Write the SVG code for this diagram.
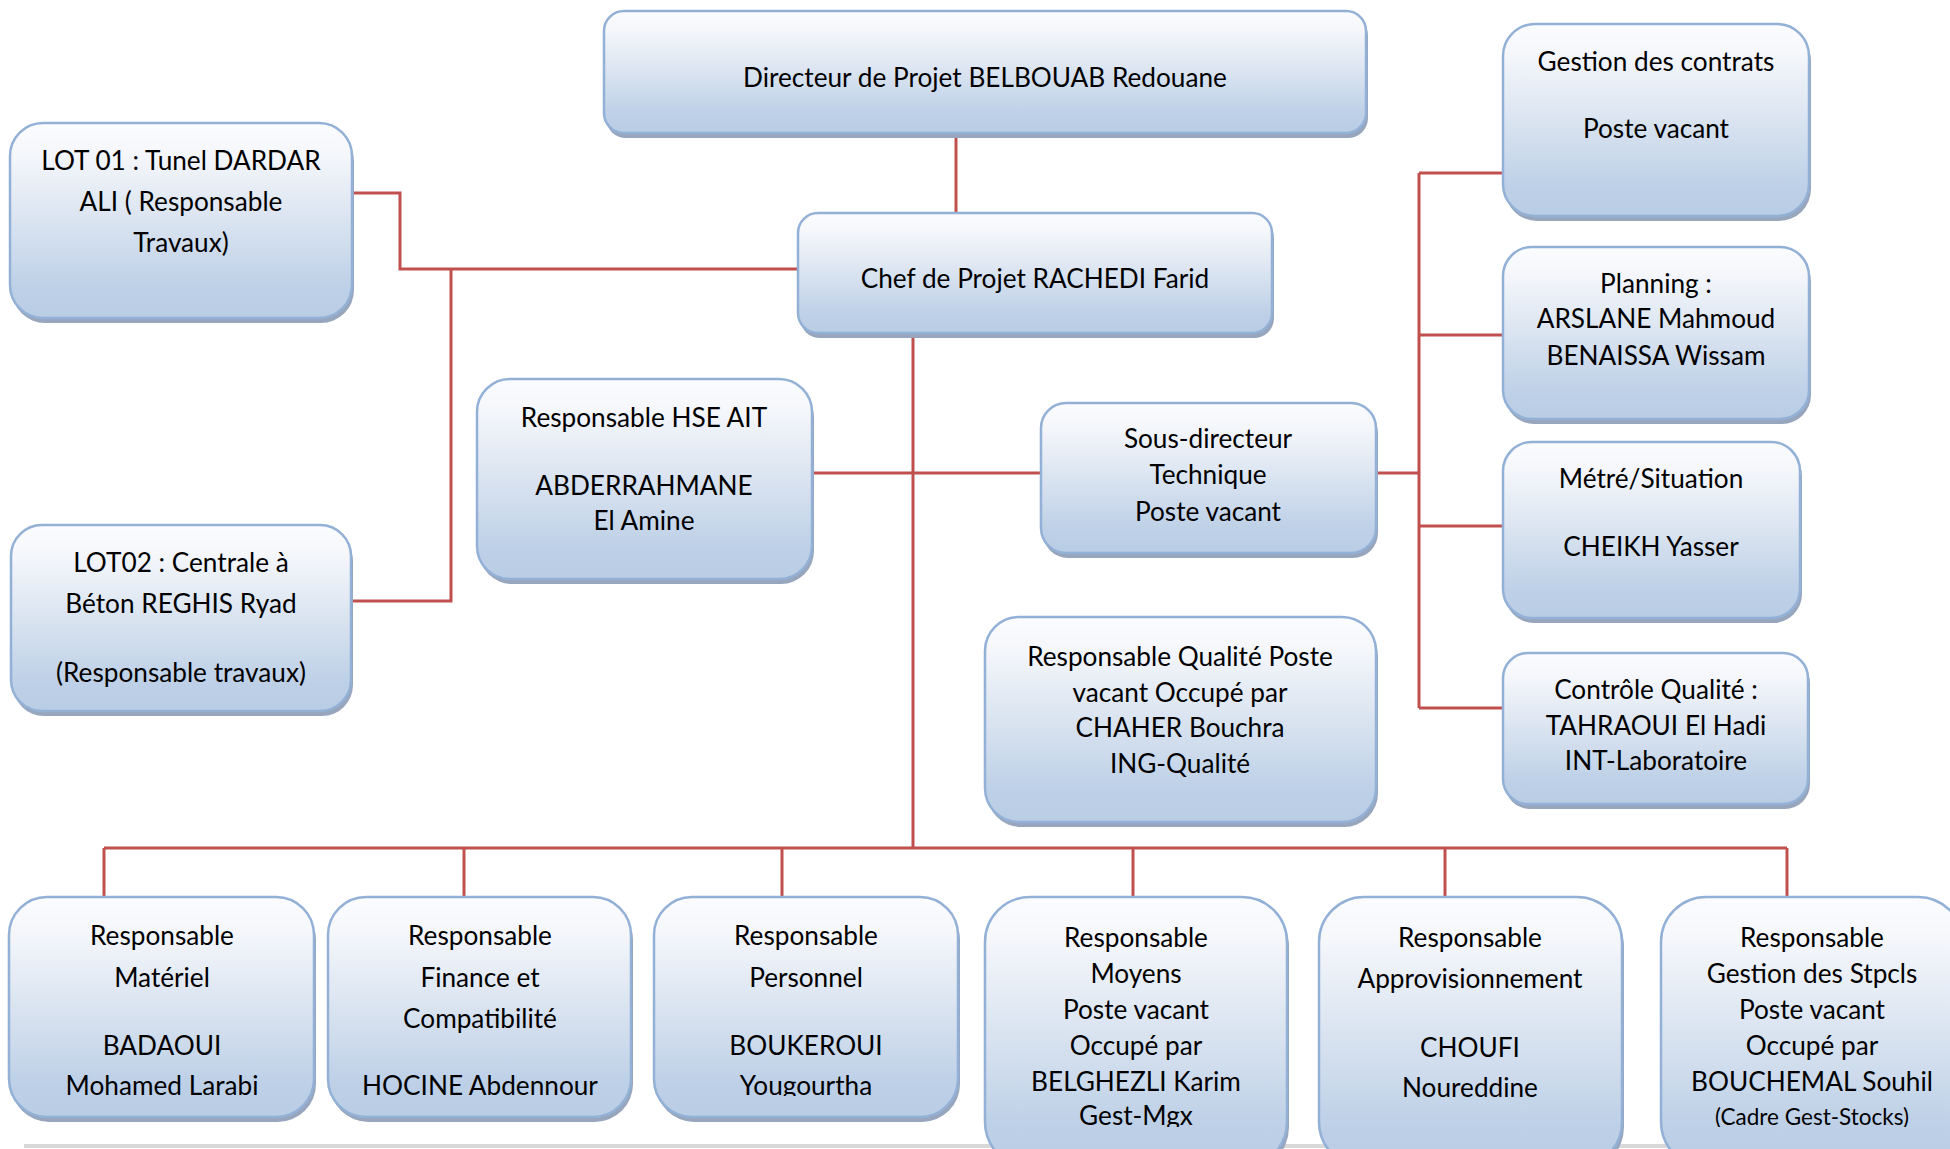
<svg xmlns="http://www.w3.org/2000/svg" width="1950" height="1149" viewBox="0 0 1950 1149">
  <style>
    .box { fill: url(#boxFill); stroke: #93b1d6; stroke-width: 2.5; }
    .shadow { fill: #97a6bd; }
    .t { font-family: Lato, "Open Sans", "Liberation Sans", sans-serif; font-size: 26.2px; fill: #000; text-anchor: middle; }
    .small { font-size: 22.5px; }
    .conn { fill: none; stroke: #c0504d; stroke-width: 3; }
  </style>
  <defs>
    <linearGradient id="boxFill" x1="0" y1="0" x2="0" y2="1">
      <stop offset="0" stop-color="#fbfcfe"/>
      <stop offset="0.15" stop-color="#f5f7fb"/>
      <stop offset="0.55" stop-color="#d6e1ef"/>
      <stop offset="0.85" stop-color="#bdd0e7"/>
      <stop offset="1" stop-color="#b9cde5"/>
    </linearGradient>
    <clipPath id="clipLow"><rect x="0" y="0" width="1950" height="1096"/></clipPath>
    <clipPath id="clipLow2"><rect x="0" y="0" width="1950" height="1127"/></clipPath>
  </defs>

  <rect width="1950" height="1149" fill="#fff"/>

  <!-- page edge -->
  <rect x="24" y="1144" width="1926" height="4" fill="#d9d9d9"/>

  <!-- connectors -->
  <g id="connectors">
    <path class="conn" d="M956,136 V213"/>
    <path class="conn" d="M352,193 H400 V269 H798"/>
    <path class="conn" d="M352,601 H451 V269"/>
    <path class="conn" d="M812,473 H1041"/>
    <path class="conn" d="M1376,473 H1419"/>
    <path class="conn" d="M1419,173 V708"/>
    <path class="conn" d="M1419,173 H1503"/>
    <path class="conn" d="M1419,335 H1503"/>
    <path class="conn" d="M1419,526 H1503"/>
    <path class="conn" d="M1419,708 H1503"/>
    <path class="conn" d="M913,335 V848"/>
    <path class="conn" d="M104,848 H1787"/>
    <path class="conn" d="M104,848 V897"/>
    <path class="conn" d="M464,848 V897"/>
    <path class="conn" d="M782,848 V897"/>
    <path class="conn" d="M1133,848 V897"/>
    <path class="conn" d="M1445,848 V897"/>
    <path class="conn" d="M1787,848 V897"/>
  </g>

  <!-- Directeur de projet -->
  <g id="directeur">
    <rect class="shadow" x="606" y="16" width="762" height="122" rx="20"/>
    <rect class="box" x="604" y="11" width="762" height="122" rx="20"/>
    <text class="t" x="985" y="87">Directeur de Projet BELBOUAB Redouane</text>
  </g>

  <!-- Chef de projet -->
  <g id="chef">
    <rect class="shadow" x="800" y="218" width="474" height="120" rx="20"/>
    <rect class="box" x="798" y="213" width="474" height="120" rx="20"/>
    <text class="t" x="1035" y="288">Chef de Projet RACHEDI Farid</text>
  </g>

  <!-- LOT 01 -->
  <g id="lot01">
    <rect class="shadow" x="12" y="128" width="342" height="195" rx="33"/>
    <rect class="box" x="10" y="123" width="342" height="195" rx="33"/>
    <text class="t" x="181" y="170">LOT 01 : Tunel DARDAR</text>
    <text class="t" x="181" y="211">ALI ( Responsable</text>
    <text class="t" x="181" y="252">Travaux)</text>
  </g>

  <!-- LOT 02 -->
  <g id="lot02">
    <rect class="shadow" x="13" y="530" width="340" height="186" rx="31"/>
    <rect class="box" x="11" y="525" width="340" height="186" rx="31"/>
    <text class="t" x="181" y="572">LOT02 : Centrale à</text>
    <text class="t" x="181" y="613">Béton REGHIS Ryad</text>
    <text class="t" x="181" y="682">(Responsable travaux)</text>
  </g>

  <!-- Responsable HSE -->
  <g id="hse">
    <rect class="shadow" x="479" y="384" width="335" height="200" rx="33"/>
    <rect class="box" x="477" y="379" width="335" height="200" rx="33"/>
    <text class="t" x="644" y="427">Responsable HSE AIT</text>
    <text class="t" x="644" y="495">ABDERRAHMANE</text>
    <text class="t" x="644" y="530">El Amine</text>
  </g>

  <!-- Sous-directeur technique -->
  <g id="sous-directeur">
    <rect class="shadow" x="1043" y="408" width="335" height="150" rx="25"/>
    <rect class="box" x="1041" y="403" width="335" height="150" rx="25"/>
    <text class="t" x="1208" y="448">Sous-directeur</text>
    <text class="t" x="1208" y="484">Technique</text>
    <text class="t" x="1208" y="521">Poste vacant</text>
  </g>

  <!-- Responsable qualité -->
  <g id="resp-qualite">
    <rect class="shadow" x="987" y="622" width="391" height="205" rx="34"/>
    <rect class="box" x="985" y="617" width="391" height="205" rx="34"/>
    <text class="t" x="1180" y="666">Responsable Qualité Poste</text>
    <text class="t" x="1180" y="702">vacant Occupé par</text>
    <text class="t" x="1180" y="737">CHAHER Bouchra</text>
    <text class="t" x="1180" y="773">ING-Qualité</text>
  </g>

  <!-- Gestion des contrats -->
  <g id="gestion-contrats">
    <rect class="shadow" x="1505" y="29" width="306" height="192" rx="32"/>
    <rect class="box" x="1503" y="24" width="306" height="192" rx="32"/>
    <text class="t" x="1656" y="71">Gestion des contrats</text>
    <text class="t" x="1656" y="138">Poste vacant</text>
  </g>

  <!-- Planning -->
  <g id="planning">
    <rect class="shadow" x="1505" y="252" width="306" height="172" rx="29"/>
    <rect class="box" x="1503" y="247" width="306" height="172" rx="29"/>
    <text class="t" x="1656" y="293">Planning :</text>
    <text class="t" x="1656" y="328">ARSLANE Mahmoud</text>
    <text class="t" x="1656" y="365">BENAISSA Wissam</text>
  </g>

  <!-- Métré / Situation -->
  <g id="metre">
    <rect class="shadow" x="1505" y="447" width="297" height="176" rx="29"/>
    <rect class="box" x="1503" y="442" width="297" height="176" rx="29"/>
    <text class="t" x="1651" y="488">Métré/Situation</text>
    <text class="t" x="1651" y="556">CHEIKH Yasser</text>
  </g>

  <!-- Contrôle qualité -->
  <g id="controle-qualite">
    <rect class="shadow" x="1505" y="658" width="305" height="151" rx="25"/>
    <rect class="box" x="1503" y="653" width="305" height="151" rx="25"/>
    <text class="t" x="1656" y="699">Contrôle Qualité :</text>
    <text class="t" x="1656" y="735">TAHRAOUI El Hadi</text>
    <text class="t" x="1656" y="770">INT-Laboratoire</text>
  </g>

  <!-- Responsable matériel -->
  <g id="resp-materiel">
    <rect class="shadow" x="11" y="902" width="305" height="220" rx="38"/>
    <rect class="box" x="9" y="897" width="305" height="220" rx="38"/>
    <g clip-path="url(#clipLow)">
      <text class="t" x="162" y="945">Responsable</text>
      <text class="t" x="162" y="987">Matériel</text>
      <text class="t" x="162" y="1055">BADAOUI</text>
      <text class="t" x="162" y="1095">Mohamed Larabi</text>
    </g>
  </g>

  <!-- Responsable finance -->
  <g id="resp-finance">
    <rect class="shadow" x="330" y="902" width="303" height="220" rx="38"/>
    <rect class="box" x="328" y="897" width="303" height="220" rx="38"/>
    <g clip-path="url(#clipLow)">
      <text class="t" x="480" y="945">Responsable</text>
      <text class="t" x="480" y="987">Finance et</text>
      <text class="t" x="480" y="1028">Compatibilité</text>
      <text class="t" x="480" y="1095">HOCINE Abdennour</text>
    </g>
  </g>

  <!-- Responsable personnel -->
  <g id="resp-personnel">
    <rect class="shadow" x="656" y="902" width="304" height="220" rx="38"/>
    <rect class="box" x="654" y="897" width="304" height="220" rx="38"/>
    <g clip-path="url(#clipLow)">
      <text class="t" x="806" y="945">Responsable</text>
      <text class="t" x="806" y="987">Personnel</text>
      <text class="t" x="806" y="1055">BOUKEROUI</text>
      <text class="t" x="806" y="1095">Yougourtha</text>
    </g>
  </g>

  <!-- Responsable moyens -->
  <g id="resp-moyens">
    <rect class="shadow" x="987" y="902" width="302" height="270" rx="45"/>
    <rect class="box" x="985" y="897" width="302" height="270" rx="45"/>
    <g clip-path="url(#clipLow2)">
      <text class="t" x="1136" y="947">Responsable</text>
      <text class="t" x="1136" y="983">Moyens</text>
      <text class="t" x="1136" y="1019">Poste vacant</text>
      <text class="t" x="1136" y="1055">Occupé par</text>
      <text class="t" x="1136" y="1091">BELGHEZLI Karim</text>
      <text class="t" x="1136" y="1125">Gest-Mgx</text>
    </g>
  </g>

  <!-- Responsable approvisionnement -->
  <g id="resp-appro">
    <rect class="shadow" x="1321" y="902" width="303" height="270" rx="45"/>
    <rect class="box" x="1319" y="897" width="303" height="270" rx="45"/>
    <text class="t" x="1470" y="947">Responsable</text>
    <text class="t" x="1470" y="988">Approvisionnement</text>
    <text class="t" x="1470" y="1057">CHOUFI</text>
    <text class="t" x="1470" y="1097">Noureddine</text>
  </g>

  <!-- Responsable gestion des stocks -->
  <g id="resp-stocks">
    <rect class="shadow" x="1663" y="902" width="302" height="270" rx="45"/>
    <rect class="box" x="1661" y="897" width="302" height="270" rx="45"/>
    <g clip-path="url(#clipLow2)">
      <text class="t" x="1812" y="947">Responsable</text>
      <text class="t" x="1812" y="983">Gestion des Stpcls</text>
      <text class="t" x="1812" y="1019">Poste vacant</text>
      <text class="t" x="1812" y="1055">Occupé par</text>
      <text class="t" x="1812" y="1091">BOUCHEMAL Souhil</text>
      <text class="t small" x="1812" y="1125">(Cadre Gest-Stocks)</text>
    </g>
  </g>
</svg>
